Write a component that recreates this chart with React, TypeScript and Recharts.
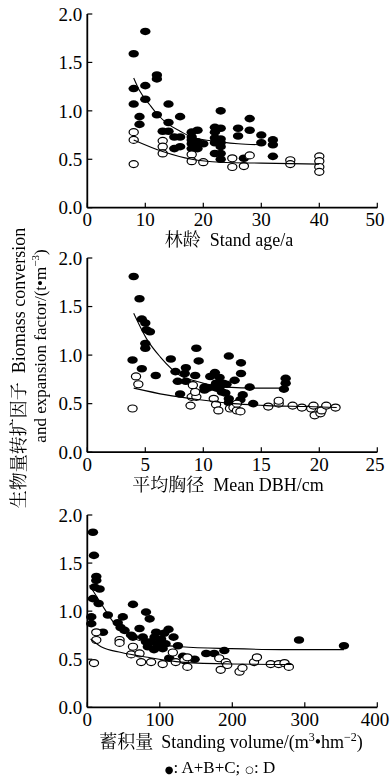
import React from 'react';
import { ScatterChart, Scatter, XAxis, YAxis } from 'recharts';

type P = { x: number; y: number };
const toP = (a: number[][]): P[] => a.map(([x, y]) => ({ x, y }));

const FONT = "'Liberation Serif', 'Times New Roman', 'Noto Serif CJK SC', 'Noto Sans CJK SC', serif";

const yTicks = [0, 0.5, 1.0, 1.5, 2.0];
const ageTicks = [0, 10, 20, 30, 40, 50];
const dbhTicks = [0, 5, 10, 15, 20, 25];
const volTicks = [0, 100, 200, 300, 400];

// Panel 1: stand age
const ageABC = toP([[8,1.59],[10,1.82],[8,1.23],[8,1.07],[10,1.26],[10,1.12],[9,0.94],[9,0.86],[12,1.37],[12,1.33],[12,0.96],[14,1.07],[14,0.88],[13,0.79],[14,0.79],[15,0.73],[16,0.73],[16,0.94],[15,0.61],[16,0.63],[18,0.78],[19,0.80],[18,0.70],[18,0.66],[18,0.61],[19,0.68],[20,0.66],[19,0.61],[22,0.83],[22,0.78],[23,0.82],[23,1.00],[22,0.67],[23,0.71],[23,0.63],[22,0.56],[23,0.56],[23,0.50],[26,0.82],[26,0.74],[28,0.92],[28,0.80],[30,0.75],[30,0.67],[32,0.70],[32,0.65],[32,0.53],[27,0.51],[23,0.67],[18,0.73],[22,0.72]]);
const ageD = toP([[8,0.78],[8,0.70],[8,0.45],[13,0.69],[13,0.63],[13,0.56],[18,0.55],[18,0.48],[20,0.47],[25,0.51],[25,0.42],[27,0.43],[28,0.54],[35,0.49],[35,0.45],[40,0.53],[40,0.48],[40,0.42],[40,0.37]]);
const ageFitABC = toP([[8,1.34],[9,1.21],[10.8,1.06],[12,0.97],[14,0.86],[16,0.79],[18,0.73],[23,0.68],[26,0.66],[30,0.65]]);
const ageFitD = toP([[8,0.70],[13,0.58],[18,0.50],[23,0.47],[30,0.46],[40,0.45]]);

// Panel 2: mean DBH
const dbhABC = toP([[4.0,1.81],[4.5,1.58],[4.7,1.37],[5.0,1.33],[5.1,1.26],[5.4,1.24],[5.0,1.12],[5.0,1.07],[3.9,0.95],[4.7,0.86],[5.9,0.79],[7.2,0.96],[7.6,0.83],[7.8,0.73],[8.5,0.73],[8.5,0.87],[8.4,0.81],[9.3,0.79],[9.4,1.07],[9.6,0.94],[8.0,0.60],[10.1,0.64],[10.1,0.67],[10.6,0.78],[11.0,0.82],[11.4,0.77],[10.9,0.67],[11.1,0.71],[11.4,0.67],[11.7,0.71],[12.0,0.70],[12.2,0.99],[11.9,0.61],[12.2,0.55],[12.2,0.51],[12.7,0.74],[13.25,0.92],[13.25,0.81],[13.4,0.59],[13.2,0.54],[14.0,0.67],[14.3,0.50],[17.1,0.76],[17.1,0.71],[16.95,0.65],[11.15,0.66],[10.4,0.66],[11.6,0.62]]);
const dbhD = toP([[4.2,0.78],[4.4,0.70],[3.9,0.45],[8.9,0.48],[9.1,0.69],[9.0,0.57],[9.4,0.57],[9.3,0.62],[10.9,0.55],[11.1,0.49],[11.3,0.43],[12.3,0.45],[12.6,0.46],[12.9,0.43],[13.2,0.42],[12.9,0.50],[15.6,0.47],[16.5,0.50],[16.5,0.53],[17.7,0.48],[18.5,0.46],[19.3,0.45],[19.5,0.48],[19.6,0.38],[20.1,0.40],[20.2,0.43],[20.6,0.48],[21.4,0.46]]);
const dbhFitABC = toP([[4.0,1.43],[5.1,1.17],[6.3,0.98],[8.0,0.79],[9.4,0.73],[12,0.67],[14.9,0.66],[17,0.66]]);
const dbhFitD = toP([[4.0,0.66],[6.8,0.59],[9.7,0.54],[12.6,0.50],[15.5,0.48],[18.9,0.47],[21.5,0.46]]);

// Panel 3: standing volume
const volABC = toP([[7.8,1.82],[9.2,1.58],[12.4,1.36],[12.4,1.32],[10,1.25],[17,1.23],[7.8,1.13],[15.6,1.08],[5.5,0.94],[5.5,0.87],[21.6,0.78],[28.4,0.96],[49,0.94],[42,0.88],[45.9,0.83],[51.4,0.80],[63,1.07],[60.5,0.75],[63,0.73],[72,0.82],[81,0.99],[86,0.92],[76.6,0.73],[81,0.68],[88,0.68],[83.5,0.63],[92.7,0.73],[95,0.78],[101.8,0.71],[106,0.77],[112,0.81],[97,0.64],[104,0.61],[108,0.66],[119,0.73],[125,0.64],[113,0.51],[132,0.53],[148,0.50],[164,0.56],[175,0.56],[189,0.59],[292,0.70],[354,0.64],[100,0.68],[92,0.60]]);
const volD = toP([[12.4,0.78],[12.4,0.70],[9.2,0.46],[44.5,0.70],[44.5,0.67],[63,0.63],[60.5,0.55],[72,0.56],[74.3,0.47],[88,0.47],[104,0.45],[118,0.57],[122,0.47],[134,0.49],[138,0.52],[138,0.42],[182,0.51],[191,0.47],[193,0.44],[184,0.39],[210,0.37],[214,0.41],[230,0.47],[234,0.52],[253,0.45],[264,0.45],[272,0.46],[278,0.42]]);
const volFitABC = toP([[3.2,1.27],[19,1.08],[37.6,0.87],[60.5,0.73],[92.7,0.66],[130,0.63],[198,0.61],[267,0.60],[354,0.60]]);
const volFitD = toP([[4.6,0.71],[19,0.63],[47,0.57],[83.5,0.52],[130,0.47],[198,0.45],[283,0.445]]);

const FilledDot = (p: any) => <ellipse cx={p.cx} cy={p.cy} rx={5.2} ry={3.8} fill="#000" />;
const OpenDot = (p: any) => <ellipse cx={p.cx} cy={p.cy} rx={4.6} ry={3.5} fill="#fff" stroke="#000" strokeWidth={1.2} />;
const NoDot = () => <g />;

const XTick = (p: any) => {
  const lx = p.x + 14 > 389 ? 389 - 14 : p.x;
  return (
    <g>
      <line x1={p.x} x2={p.x} y1={p.y - 5} y2={p.y - 10} stroke="#000" strokeWidth={1.2} />
      <text x={lx} y={p.y} dy="0.71em" textAnchor="middle" fontSize={19} fontFamily={FONT} fill="#000">
        {p.payload.value}
      </text>
    </g>
  );
};
const YTick = (p: any) => (
  <g>
    <line x1={p.x + 5} x2={p.x + 10} y1={p.y} y2={p.y} stroke="#000" strokeWidth={1.2} />
    <text x={p.x} y={p.y} dy="0.35em" textAnchor="end" fontSize={19} fontFamily={FONT} fill="#000">
      {Number(p.payload.value).toFixed(1)}
    </text>
  </g>
);

type PanelProps = {
  top: number;
  marginBottom: number;
  xDomain: [number, number];
  xTicks: number[];
  abc: P[];
  d: P[];
  fitABC: P[];
  fitD: P[];
};

function Panel({ top, marginBottom, xDomain, xTicks, abc, d, fitABC, fitD }: PanelProps) {
  return (
    <div style={{ position: 'absolute', left: 0, top }}>
      <ScatterChart width={390} height={250} margin={{ top: 14, right: 12.7, bottom: marginBottom, left: 27.3 }}>
        <XAxis
          type="number"
          dataKey="x"
          domain={xDomain}
          ticks={xTicks}
          interval={0}
          height={30}
          tickSize={0}
          tickMargin={5}
          tickLine={false}
          axisLine={{ stroke: '#000', strokeWidth: 1.8 }}
          tick={(p: any) => <XTick {...p} />}
        />
        <YAxis
          type="number"
          dataKey="y"
          domain={[0, 2]}
          ticks={yTicks}
          interval={0}
          width={60}
          tickSize={0}
          tickMargin={5}
          tickLine={false}
          axisLine={{ stroke: '#000', strokeWidth: 1.8 }}
          tick={(p: any) => <YTick {...p} />}
        />
        <Scatter data={abc} shape={FilledDot} isAnimationActive={false} />
        <Scatter data={d} shape={OpenDot} isAnimationActive={false} />
        <Scatter data={fitABC} shape={NoDot} line={{ stroke: '#000', strokeWidth: 1.1 }} lineType="joint" lineJointType="monotoneX" isAnimationActive={false} />
        <Scatter data={fitD} shape={NoDot} line={{ stroke: '#000', strokeWidth: 1.1 }} lineType="joint" lineJointType="monotoneX" isAnimationActive={false} />
      </ScatterChart>
    </div>
  );
}

export default function App() {
  const t = { fontFamily: FONT, fontSize: 18, fill: '#000' } as const;
  return (
    <div style={{ position: 'absolute', left: 0, top: 0, width: 390, height: 778, background: '#fff' }}>
      <Panel top={0} marginBottom={12.3} xDomain={[0, 50]} xTicks={ageTicks} abc={ageABC} d={ageD} fitABC={ageFitABC} fitD={ageFitD} />
      <Panel top={244.3} marginBottom={11.8} xDomain={[0, 25]} xTicks={dbhTicks} abc={dbhABC} d={dbhD} fitABC={dbhFitABC} fitD={dbhFitD} />
      <Panel top={501} marginBottom={13.7} xDomain={[0, 400]} xTicks={volTicks} abc={volABC} d={volD} fitABC={volFitABC} fitD={volFitD} />
      <svg width={390} height={778} style={{ position: 'absolute', left: 0, top: 0, pointerEvents: 'none', willChange: 'transform' }}>
        <text x={229} y={246} textAnchor="middle" {...t}>林龄<tspan dx={9}>Stand age/a</tspan></text>
        <text x={228} y={491} textAnchor="middle" {...t}>平均胸径<tspan dx={9}>Mean DBH/cm</tspan></text>
        <text x={231} y={748} textAnchor="middle" {...t}>
          蓄积量<tspan dx={8}>Standing volume/(m</tspan><tspan fontSize={12} dy={-7}>3</tspan><tspan dy={7}>•hm</tspan><tspan fontSize={12} dy={-7}>−2</tspan><tspan dy={7}>)</tspan>
        </text>
        <text x={220} y={773} textAnchor="middle" fontFamily={FONT} fontSize={17} fill="#000">
          <tspan fontSize={10} fontFamily="'DejaVu Sans', sans-serif">●</tspan>: A+B+C;<tspan dx={5} fontSize={10} fontFamily="'DejaVu Sans', sans-serif">○</tspan>: D
        </text>
        <text transform="translate(25,368) rotate(-90)" textAnchor="middle" {...t}>生物量转扩因子<tspan dx={9}>Biomass conversion</tspan></text>
        <text transform="translate(46,346) rotate(-90)" textAnchor="middle" fontFamily={FONT} fontSize={17} fill="#000">
          and expansion factor/(t•m<tspan fontSize={11} dy={-7}>−3</tspan><tspan dy={7}>)</tspan>
        </text>
      </svg>
    </div>
  );
}
